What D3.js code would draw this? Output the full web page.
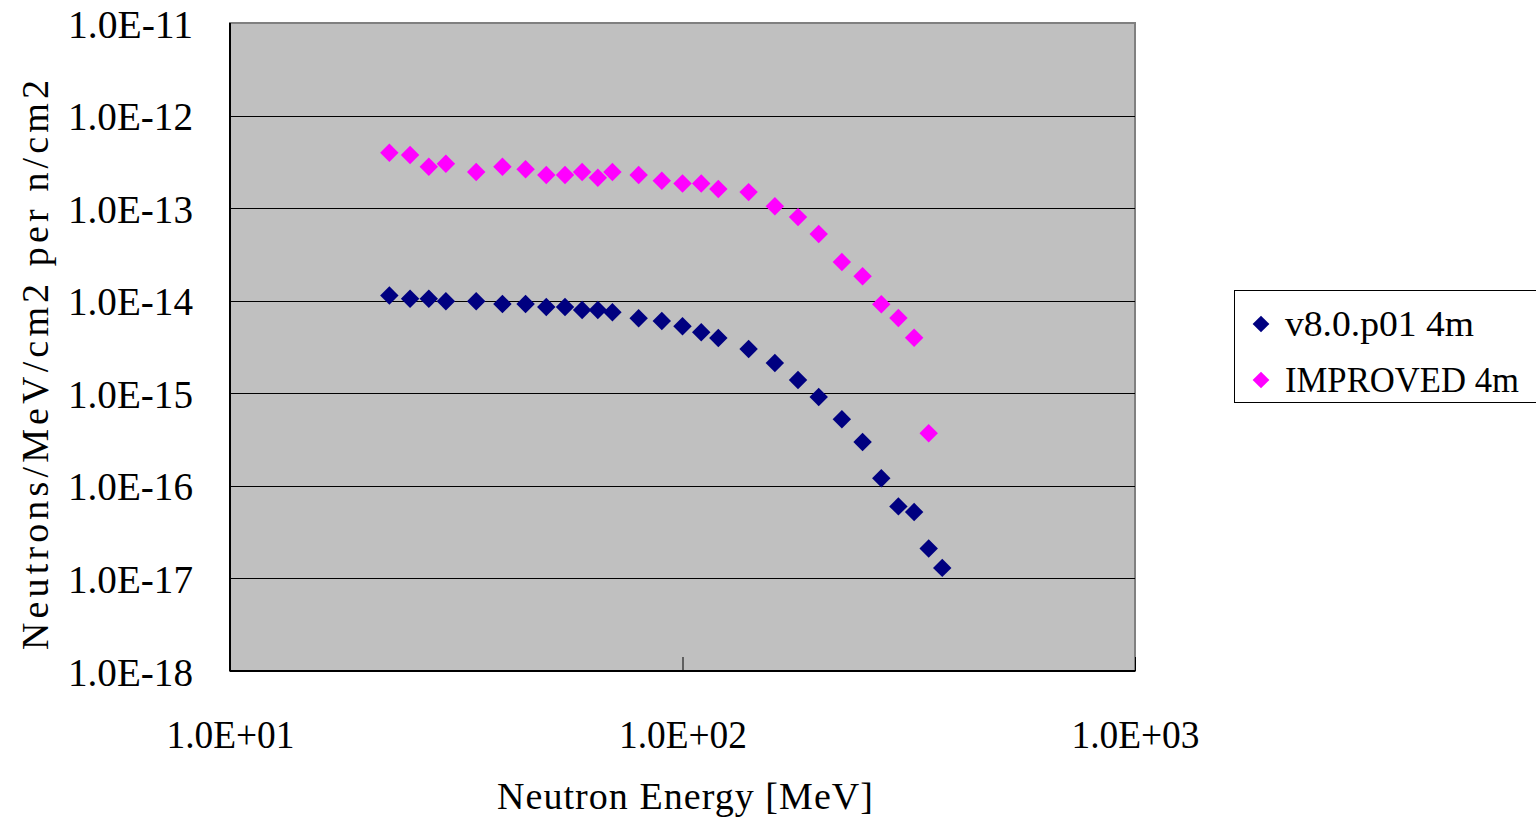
<!DOCTYPE html>
<html>
<head>
<meta charset="utf-8">
<script src="https://cdn.jsdelivr.net/npm/d3@7"></script>
<style>
  html, body { margin: 0; padding: 0; background: #fff; }
  svg text { font-family: 'Liberation Serif', 'DejaVu Serif', serif; fill: #000; }
</style>
</head>
<body>
<div id="chart"></div>
<script>
// neutron energy [MeV]
const energy = [22.5, 25, 27.5, 30, 35, 40, 45, 50, 55, 60, 65, 70, 80, 90, 100,
  110, 120, 140, 160, 180, 200, 225, 250, 275, 300, 325, 350, 375]

// v8.0.p01 4m
const v80 = [1.14e-14, 1.05e-14, 1.05e-14, 9.86e-15, 9.86e-15, 9.21e-15, 9.21e-15,
  8.55e-15, 8.55e-15, 7.94e-15, 7.94e-15, 7.5e-15, 6.46e-15, 6.04e-15, 5.29e-15,
  4.56e-15, 3.95e-15, 3.01e-15, 2.12e-15, 1.39e-15, 9.1e-16, 5.24e-16, 2.97e-16,
  1.21e-16, 6.0e-17, 5.21e-17, 2.11e-17, 1.3e-17]

// IMPROVED 4m (no value at 375)
const improved = [3.97e-13, 3.75e-13, 2.8e-13, 3.02e-13, 2.46e-13, 2.8e-13, 2.63e-13,
  2.28e-13, 2.28e-13, 2.46e-13, 2.13e-13, 2.46e-13, 2.28e-13, 1.98e-13, 1.85e-13,
  1.85e-13, 1.61e-13, 1.49e-13, 1.05e-13, 8.0e-14, 5.26e-14, 2.62e-14, 1.84e-14,
  9.15e-15, 6.5e-15, 3.98e-15, 3.7e-16]

const xTicks = [1e1, 1e2, 1e3]
const yTicks = [1e-11, 1e-12, 1e-13, 1e-14, 1e-15, 1e-16, 1e-17, 1e-18]
const seriesNames = ['v8.0.p01 4m', 'IMPROVED 4m']
const seriesColors = ['#000080', '#ff00ff']

const width = 1536
const height = 819
const margin = { top: 23, right: 401, bottom: 148, left: 230 }
const plotW = width - margin.left - margin.right
const plotH = height - margin.top - margin.bottom

const svg = d3.select('#chart')
  .append('svg')
  .attr('width', width)
  .attr('height', height)

const x = d3.scaleLog().domain([1e1, 1e3]).range([margin.left, margin.left + plotW])
const y = d3.scaleLog().domain([1e-18, 1e-11]).range([margin.top + plotH, margin.top])

const expFmt = (v) => {
  const e = Math.round(Math.log10(v))
  const sign = e < 0 ? '-' : '+'
  return '1.0E' + sign + String(Math.abs(e)).padStart(2, '0')
}

// plot background
svg.append('rect')
  .attr('x', margin.left)
  .attr('y', margin.top)
  .attr('width', plotW)
  .attr('height', plotH)
  .attr('fill', '#c0c0c0')
  .attr('stroke', '#808080')
  .attr('stroke-width', 2)

// horizontal gridlines
svg.append('g')
  .selectAll('line')
  .data(yTicks.slice(1, -1))
  .join('line')
  .attr('x1', margin.left)
  .attr('x2', margin.left + plotW)
  .attr('y1', (d) => Math.round(y(d)) + 0.5)
  .attr('y2', (d) => Math.round(y(d)) + 0.5)
  .attr('stroke', '#000')
  .attr('stroke-width', 1)

// axes lines (left and bottom)
svg.append('line')
  .attr('x1', margin.left).attr('x2', margin.left)
  .attr('y1', margin.top).attr('y2', margin.top + plotH)
  .attr('stroke', '#000').attr('stroke-width', 2)
svg.append('line')
  .attr('x1', margin.left).attr('x2', margin.left + plotW)
  .attr('y1', margin.top + plotH).attr('y2', margin.top + plotH)
  .attr('stroke', '#000').attr('stroke-width', 2)

// x axis ticks (inside) and labels
const xAxis = d3.axisBottom(x)
  .tickValues(xTicks)
  .tickSize(-14)
  .tickFormat(expFmt)
const gx = svg.append('g')
  .attr('transform', `translate(0,${margin.top + plotH})`)
  .call(xAxis)
gx.select('.domain').remove()
gx.selectAll('.tick line').attr('stroke', '#000')
gx.selectAll('.tick text')
  .attr('y', 77)
  .attr('dy', 0)
  .attr('textLength', 128)
  .attr('lengthAdjust', 'spacingAndGlyphs')
  .style('font-size', '40px')
  .style('font-family', "'Liberation Serif', serif")

// y axis labels
const yAxis = d3.axisLeft(y)
  .tickValues(yTicks)
  .tickSize(0)
  .tickFormat(expFmt)
const gy = svg.append('g')
  .attr('transform', `translate(${margin.left},0)`)
  .call(yAxis)
gy.select('.domain').remove()
gy.selectAll('.tick text')
  .attr('x', -37)
  .attr('dy', '0.35em')
  .attr('textLength', 125)
  .attr('lengthAdjust', 'spacingAndGlyphs')
  .style('font-size', '40px')
  .style('font-family', "'Liberation Serif', serif")

// axis titles
svg.append('text')
  .attr('x', 497)
  .attr('y', 809)
  .attr('textLength', 376)
  .attr('lengthAdjust', 'spacing')
  .style('font-size', '38px')
  .text('Neutron Energy [MeV]')

svg.append('text')
  .attr('transform', 'translate(48,650) rotate(-90)')
  .attr('textLength', 570)
  .attr('lengthAdjust', 'spacing')
  .style('font-size', '38px')
  .text('Neutrons/MeV/cm2 per n/cm2')

// markers
const diamond = d3.symbol().type(d3.symbolSquare).size(170)
const series = [v80, improved]

series.forEach((vals, i) => {
  svg.append('g')
    .selectAll('path')
    .data(vals.map((v, j) => [energy[j], v]))
    .join('path')
    .attr('d', diamond)
    .attr('transform', (d) => `translate(${x(d[0])},${y(d[1])}) rotate(45)`)
    .attr('fill', seriesColors[i])
})

// legend (box runs off the right edge, as in the original)
const legendWidths = [189, 234]
const legend = svg.append('g')
legend.append('rect')
  .attr('x', 1234.5)
  .attr('y', 290.5)
  .attr('width', 310)
  .attr('height', 112)
  .attr('fill', '#fff')
  .attr('stroke', '#000')
  .attr('stroke-width', 1)

seriesNames.forEach((name, i) => {
  const cy = 324 + i * 56
  legend.append('path')
    .attr('d', d3.symbol().type(d3.symbolSquare).size(140))
    .attr('transform', `translate(1261,${cy}) rotate(45)`)
    .attr('fill', seriesColors[i])
  legend.append('text')
    .attr('x', 1285)
    .attr('y', cy)
    .attr('dy', '0.35em')
    .attr('textLength', legendWidths[i])
    .attr('lengthAdjust', 'spacingAndGlyphs')
    .style('font-size', '35px')
    .text(name)
})
</script>
</body>
</html>
